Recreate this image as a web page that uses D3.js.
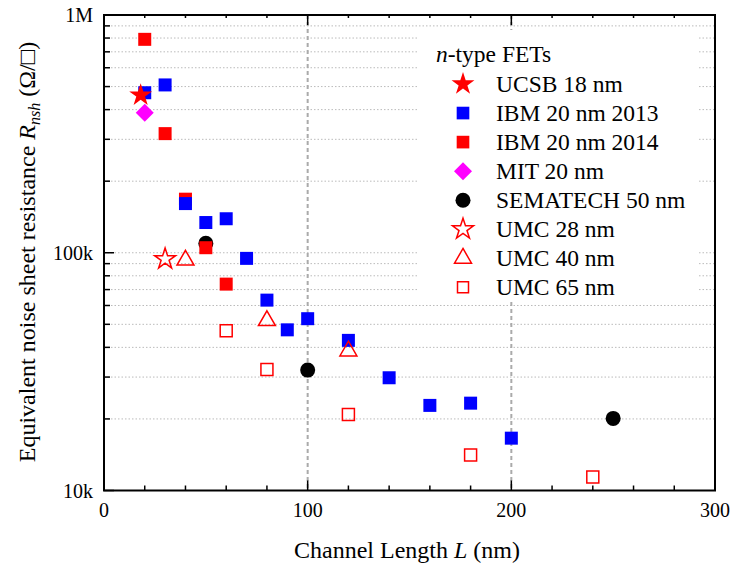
<!DOCTYPE html>
<html><head><meta charset="utf-8">
<script src="https://cdn.jsdelivr.net/npm/d3@7/dist/d3.min.js"></script>
</head><body style="margin:0">
<script>
// ---- data ----
const ucsbX = [18], ucsbY = [460000];
const ibm13X = [20,30,40,50,60,70,80,90,100,120,140,160,180,200];
const ibm13Y = [471000,508000,161000,134000,139000,94700,63200,47400,52800,42800,29800,22800,23300,16600];
const ibm14X = [20,30,40,50,60];
const ibm14Y = [790000,317000,168000,105000,73800];
const mitX = [20], mitY = [388000];
const semX = [50,100,250], semY = [109500,32100,20100];
const umc28X = [30], umc28Y = [94100];
const umc40X = [40,80,120], umc40Y = [93100,51800,38600];
const umc65X = [60,80,120,180,240], umc65Y = [47000,32300,20900,14100,11400];
const xTicks = [0,100,200,300];
const yTicks = [10000,100000,1000000];
const yTickLabels = ["10k","100k","1M"];
const legendNames = ["UCSB 18 nm","IBM 20 nm 2013","IBM 20 nm 2014","MIT 20 nm","SEMATECH 50 nm","UMC 28 nm","UMC 40 nm","UMC 65 nm"];

const FONT = "Liberation Serif";
const W=730,H=568;
const L=104,R=715,T=15,B=490.5;
const svg=d3.select("body").append("svg").attr("width",W).attr("height",H).style("display","block");
const x=d3.scaleLinear().domain([0,300]).range([L,R]);
const y=d3.scaleLog().domain([10000,1000000]).range([B,T]);

const minorY=[];
[10000,100000].forEach(d=>{for(let k=2;k<=9;k++)minorY.push(d*k);});
const gridY=minorY.concat([100000]);
svg.append("g").selectAll("line").data(gridY).join("line")
 .attr("x1",L).attr("x2",R).attr("y1",d=>y(d)).attr("y2",d=>y(d))
 .attr("stroke","#bbb").attr("stroke-width",1).attr("stroke-dasharray","1.5,2");
svg.append("g").selectAll("line").data([100,200]).join("line")
 .attr("x1",d=>x(d)).attr("x2",d=>x(d)).attr("y1",T).attr("y2",B)
 .attr("stroke","#aaa").attr("stroke-width",2).attr("stroke-dasharray","4,3");
svg.append("rect").attr("x",417).attr("y",30).attr("width",281).attr("height",270).attr("fill","#fff");
const minorX=d3.range(20,300,20).filter(d=>d%100!==0);
const tk=svg.append("g").attr("stroke","#000").attr("stroke-width",1.5);
minorX.forEach(d=>{
  tk.append("line").attr("x1",x(d)).attr("x2",x(d)).attr("y1",B).attr("y2",B-5);
  tk.append("line").attr("x1",x(d)).attr("x2",x(d)).attr("y1",T).attr("y2",T+3);
});
xTicks.forEach(d=>{
  tk.append("line").attr("x1",x(d)).attr("x2",x(d)).attr("y1",B).attr("y2",B-10);
  tk.append("line").attr("x1",x(d)).attr("x2",x(d)).attr("y1",T).attr("y2",T+10);
});
minorY.forEach(d=>{ tk.append("line").attr("x1",L).attr("x2",L+6).attr("y1",y(d)).attr("y2",y(d)); });
yTicks.forEach(d=>{ tk.append("line").attr("x1",L).attr("x2",L+10).attr("y1",y(d)).attr("y2",y(d)); });
svg.append("rect").attr("x",L).attr("y",T).attr("width",R-L).attr("height",B-T)
 .attr("fill","none").attr("stroke","#000").attr("stroke-width",2);

svg.append("g").selectAll("text").data(xTicks).join("text").attr("font-family",FONT)
 .attr("x",d=>x(d)).attr("y",517).attr("text-anchor","middle").attr("font-size",20).text(d=>d);
svg.append("g").selectAll("text").data(yTicks).join("text").attr("font-family",FONT)
 .attr("x",93).attr("y",d=>y(d)+7).attr("text-anchor","end").attr("font-size",20).text((d,i)=>yTickLabels[i]);

const xt=svg.append("text").attr("font-family",FONT).attr("x",407).attr("y",558).attr("text-anchor","middle").attr("font-size",24);
xt.append("tspan").text("Channel Length ");
xt.append("tspan").attr("font-style","italic").text("L");
xt.append("tspan").text(" (nm)");
const yt=svg.append("text").attr("font-family",FONT).attr("transform","translate(35,252) rotate(-90)").attr("text-anchor","middle").attr("font-size",24);
yt.append("tspan").text("Equivalent noise sheet resistance ");
yt.append("tspan").attr("font-style","italic").text("R");
yt.append("tspan").attr("font-style","italic").attr("font-size",16).attr("dy",5).text("nsh");
yt.append("tspan").attr("dy",-5).text(" (\u03A9/\u25A1)");

const sym={
  star:d3.symbol().type(d3.symbolStar).size(162)(),
  ostar:d3.symbol().type(d3.symbolStar).size(136)(),
  sq:d3.symbol().type(d3.symbolSquare).size(169)(),
  dia:d3.symbol().type(d3.symbolSquare).size(162)(),
  circ:d3.symbol().type(d3.symbolCircle).size(177)(),
  tri:d3.symbol().type(d3.symbolTriangle).size(125)(),
  osq:d3.symbol().type(d3.symbolSquare).size(144)()
};
const series=[
 {xs:semX,ys:semY,p:sym.circ,fill:"#000",stroke:"none",rot:0},
 {xs:ibm14X,ys:ibm14Y,p:sym.sq,fill:"#ff0000",stroke:"none",rot:0},
 {xs:ibm13X,ys:ibm13Y,p:sym.sq,fill:"#0000ff",stroke:"none",rot:0},
 {xs:mitX,ys:mitY,p:sym.dia,fill:"#ff00ff",stroke:"none",rot:45},
 {xs:ucsbX,ys:ucsbY,p:sym.star,fill:"#ff0000",stroke:"none",rot:0},
 {xs:umc28X,ys:umc28Y,p:sym.ostar,fill:"none",stroke:"#ff0000",rot:0},
 {xs:umc40X,ys:umc40Y,p:sym.tri,fill:"none",stroke:"#ff0000",rot:0},
 {xs:umc65X,ys:umc65Y,p:sym.osq,fill:"none",stroke:"#ff0000",rot:0}
];
series.forEach(s=>{
  svg.append("g").selectAll("path").data(s.xs.map((v,i)=>[v,s.ys[i]])).join("path")
   .attr("d",s.p).attr("transform",d=>`translate(${x(d[0])},${y(d[1])}) rotate(${s.rot})`)
   .attr("fill",s.fill).attr("stroke",s.stroke).attr("stroke-width",1.5);
});
const lt=svg.append("text").attr("font-family",FONT).attr("x",436).attr("y",62).attr("font-size",23.5);
lt.append("tspan").attr("font-style","italic").text("n");
lt.append("tspan").text("-type FETs");
const legSym=[
 {p:sym.star,fill:"#ff0000",stroke:"none",rot:0},
 {p:d3.symbol().type(d3.symbolSquare).size(160)(),fill:"#0000ff",stroke:"none",rot:0},
 {p:d3.symbol().type(d3.symbolSquare).size(160)(),fill:"#ff0000",stroke:"none",rot:0},
 {p:sym.dia,fill:"#ff00ff",stroke:"none",rot:45},
 {p:sym.circ,fill:"#000",stroke:"none",rot:0},
 {p:sym.ostar,fill:"none",stroke:"#ff0000",rot:0},
 {p:sym.tri,fill:"none",stroke:"#ff0000",rot:0},
 {p:d3.symbol().type(d3.symbolSquare).size(121)(),fill:"none",stroke:"#ff0000",rot:0}
];
legendNames.forEach((n,i)=>{
  const cy=84+i*29.05;
  const s=legSym[i];
  svg.append("path").attr("d",s.p).attr("transform",`translate(463,${cy}) rotate(${s.rot})`)
   .attr("fill",s.fill).attr("stroke",s.stroke).attr("stroke-width",1.5);
  svg.append("text").attr("font-family",FONT).attr("x",496).attr("y",cy+8).attr("font-size",23.5).text(n);
});
</script></body></html>
